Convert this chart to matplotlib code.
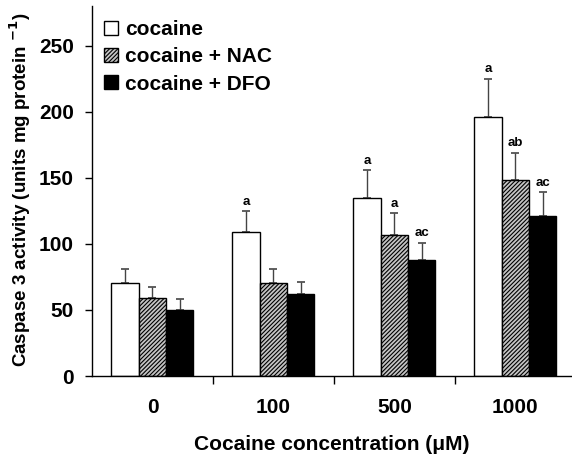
import matplotlib
matplotlib.use("Agg")
import matplotlib.pyplot as plt
import numpy as np

plt.rcParams['font.family'] = ['Liberation Sans', 'DejaVu Sans']
plt.rcParams['font.weight'] = 'bold'
plt.rcParams['hatch.linewidth'] = 0.8
plt.rcParams['hatch.color'] = '#3a3a3a'
plt.rcParams['mathtext.default'] = 'bf'

categories = ['0', '100', '500', '1000']
series = ['cocaine', 'cocaine + NAC', 'cocaine + DFO']
cocaine = [70, 109, 135, 196]
cocaine_err = [11, 16, 21, 29]
nac = [59, 70, 107, 148]
nac_err = [8.5, 11, 16, 21]
dfo = [50, 62, 88, 121]
dfo_err = [8, 9, 13, 18]
sig_cocaine = ['', 'a', 'a', 'a']
sig_nac = ['', '', 'a', 'ab']
sig_dfo = ['', '', 'ac', 'ac']

W, H = 572, 461
fig = plt.figure(figsize=(W / 100, H / 100), dpi=100)
ax_l, ax_r, ax_b, ax_t = 92, 571, 376, 6
ax = fig.add_axes([ax_l / W, 1 - ax_b / H, (ax_r - ax_l) / W, (ax_b - ax_t) / H])

x = np.arange(len(categories))
w = 0.226
styles = [dict(facecolor='white', hatch=None),
          dict(facecolor='#c4c4c4', hatch='////////'),
          dict(facecolor='black', hatch=None)]
vals = [cocaine, nac, dfo]
errs = [cocaine_err, nac_err, dfo_err]
sigs = [sig_cocaine, sig_nac, sig_dfo]

for i in range(3):
    pos = x + (i - 1) * w
    ax.bar(pos, vals[i], width=w, edgecolor='black', linewidth=1.0,
           label=series[i], zorder=2, **styles[i])
    ax.errorbar(pos, vals[i], yerr=[np.zeros(4), errs[i]], fmt='none',
                ecolor='#444444', elinewidth=1.0, capsize=2.6, capthick=1.2, zorder=1)
    for j in range(4):
        if sigs[i][j]:
            ax.text(pos[j], vals[i][j] + errs[i][j] + 2.5, sigs[i][j],
                    ha='center', va='bottom', fontsize=9.5, fontweight='bold')

ax.set_xlim(-0.5, 3.46)
ax.set_ylim(0, 280)
ax.set_yticks([0, 50, 100, 150, 200, 250])
ax.set_yticklabels(['0', '50', '100', '150', '200', '250'], fontsize=15, fontweight='bold')
ax.set_xticks([0.5, 1.5, 2.5])
ax.set_xticklabels([])
ax.tick_params(axis='x', direction='out', length=6, width=1)
ax.tick_params(axis='y', direction='out', length=5, width=1, pad=8)
for j, c in enumerate(categories):
    ax.text(x[j], -24.2, c, ha='center', va='center', fontsize=15, fontweight='bold')
for s in ['top', 'right']:
    ax.spines[s].set_visible(False)
ax.spines['left'].set_linewidth(1)
ax.spines['bottom'].set_linewidth(1)

ax.text(0.5, -69 / (ax_b - ax_t), 'Cocaine concentration (\u03bcM)', transform=ax.transAxes,
        ha='center', va='center', fontsize=15, fontweight='bold')
fig.text(20 / W, 1 - 190 / H, 'Caspase 3 activity (units mg protein $^{-1}$)',
         rotation=90, ha='center', va='center', fontsize=13.5, fontweight='bold')

leg = ax.legend(loc='upper left',
                bbox_to_anchor=((104 - ax_l) / (ax_r - ax_l), (ax_b - 20) / (ax_b - ax_t)),
                frameon=False, fontsize=15, handlelength=0.65, handleheight=0.65,
                handletextpad=0.35, labelspacing=0.4, borderaxespad=0, borderpad=0)

fig.savefig('out.png', dpi=100)
